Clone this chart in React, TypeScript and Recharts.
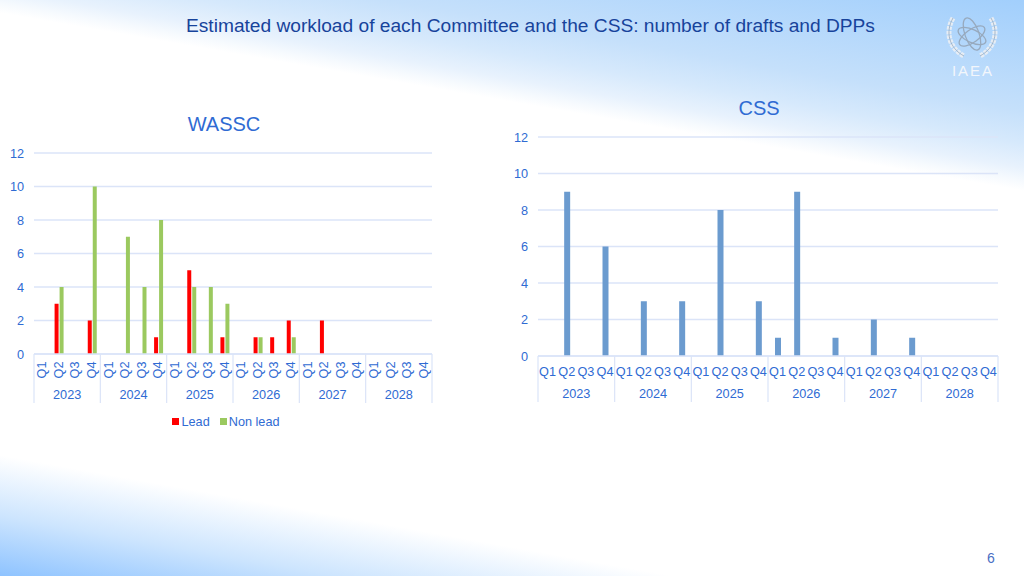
import React from 'react';
import { Bar, BarChart, CartesianGrid, Legend, XAxis, YAxis } from 'recharts';

const years = ['2023', '2024', '2025', '2026', '2027', '2028'];
const quarters = ['Q1', 'Q2', 'Q3', 'Q4'];
const yTicks = [0, 2, 4, 6, 8, 10, 12];

const wasscLead = [0, 3, 0, 2, 0, 0, 0, 1, 0, 5, 0, 1, 0, 1, 1, 2, 0, 2, 0, 0, 0, 0, 0, 0];
const wasscNonLead = [0, 4, 0, 10, 0, 7, 4, 8, 0, 4, 4, 3, 0, 1, 0, 1, 0, 0, 0, 0, 0, 0, 0, 0];
const cssDrafts = [0, 9, 0, 6, 0, 3, 0, 3, 0, 8, 0, 3, 1, 9, 0, 1, 0, 2, 0, 1, 0, 0, 0, 0];

const FONT = '"Liberation Sans", Arial, sans-serif';
const TEXT = '#2f6bd3';
const GRID = '#dbe4f8';
const TICK_SIZE = 12.7;

const periods = years.flatMap((year) => quarters.map((quarter) => ({ year, quarter })));
const wasscData = periods.map((p, i) => ({ ...p, lead: wasscLead[i], nonLead: wasscNonLead[i] }));
const cssData = periods.map((p, i) => ({ ...p, drafts: cssDrafts[i] }));

// second axis row: year label under each group of four, with the separators
const YearTick = ({ x, index, step, top, bottom, labelY }: any) => {
  const left = x - step / 2;
  return (
    <g>
      {index % 4 === 0 && <line x1={left} x2={left} y1={top} y2={bottom} stroke={GRID} strokeWidth={1.2} />}
      {index === periods.length - 1 && (
        <line x1={left + step} x2={left + step} y1={top} y2={bottom} stroke={GRID} strokeWidth={1.2} />
      )}
      {index % 4 === 1 && (
        <text x={x + step / 2} y={labelY} textAnchor="middle" fill={TEXT} fontSize={TICK_SIZE} fontFamily={FONT}>
          {periods[index].year}
        </text>
      )}
    </g>
  );
};

const RotatedTick = ({ x, y, payload }: any) => (
  <text
    transform={`translate(${x + 4},${y + 8}) rotate(-90)`}
    textAnchor="middle"
    fill={TEXT}
    fontSize={TICK_SIZE}
    fontFamily={FONT}
  >
    {payload.value}
  </text>
);

const FlatTick = ({ x, y, payload }: any) => (
  <text x={x} y={y + 12} textAnchor="middle" fill={TEXT} fontSize={TICK_SIZE} fontFamily={FONT}>
    {payload.value}
  </text>
);

const Logo = () => (
  <div style={{ position: 'absolute', left: 940, top: 10, width: 64, height: 72 }}>
    <svg width={64} height={50} style={{ position: 'absolute', left: 0, top: 0 }}>
      <g fill="none" stroke="#e6edf5" strokeWidth={5} strokeDasharray="3.5 1">
        <path d="M13 8 C5 22 9 38 24 46" />
        <path d="M51 8 C59 22 55 38 40 46" />
      </g>
      <g fill="none" stroke="#97a9bd">
        <path d="M13 8 C5 22 9 38 24 46" strokeWidth={0.8} />
        <path d="M51 8 C59 22 55 38 40 46" strokeWidth={0.8} />
        <ellipse cx={32} cy={24} rx={7} ry={17} transform="rotate(-20 32 24)" strokeWidth={1.3} />
        <ellipse cx={32} cy={26} rx={15} ry={6.5} transform="rotate(25 32 26)" strokeWidth={1.3} />
        <ellipse cx={32} cy={26} rx={15} ry={6.5} transform="rotate(-35 32 26)" strokeWidth={1.3} />
      </g>
    </svg>
    <div
      style={{
        position: 'absolute',
        left: 0,
        top: 52,
        width: 66,
        textAlign: 'center',
        color: '#f2f6fb',
        fontSize: 15,
        letterSpacing: 2,
        fontFamily: FONT,
      }}
    >
      IAEA
    </div>
  </div>
);

const Background = () => (
  <svg width={1024} height={576} style={{ position: 'absolute', left: 0, top: 0 }}>
    <defs>
      <linearGradient id="bgTop" gradientUnits="userSpaceOnUse" x1={530} y1={105} x2={562} y2={-79}>
        <stop offset="0%" stopColor="#ffffff" />
        <stop offset="5%" stopColor="#f6fafe" />
        <stop offset="12%" stopColor="#e8f2fd" />
        <stop offset="25%" stopColor="#d6e9fc" />
        <stop offset="42%" stopColor="#c5e0fb" />
        <stop offset="100%" stopColor="#a2cffc" />
      </linearGradient>
      <linearGradient id="bgBottom" gradientUnits="userSpaceOnUse" x1={250} y1={500} x2={229} y2={617}>
        <stop offset="0%" stopColor="#ffffff" />
        <stop offset="50%" stopColor="#cde5fe" />
        <stop offset="100%" stopColor="#8ec3ff" />
      </linearGradient>
    </defs>
    <rect width={1024} height={288} fill="url(#bgTop)" />
    <rect y={288} width={1024} height={288} fill="url(#bgBottom)" />
  </svg>
);

export default function App() {
  return (
    <div style={{ position: 'absolute', left: 0, top: 0, width: 1024, height: 576, overflow: 'hidden', background: '#fff', fontFamily: FONT }}>
      <Background />
      <Logo />
      <div style={{ position: 'absolute', left: 186, top: 15, color: '#17439b', fontSize: 19.17, whiteSpace: 'nowrap' }}>
        Estimated workload of each Committee and the CSS: number of drafts and DPPs
      </div>
      <div style={{ position: 'absolute', left: 34, width: 380, top: 113, textAlign: 'center', color: TEXT, fontSize: 20 }}>
        WASSC
      </div>
      <div style={{ position: 'absolute', left: 538, width: 442, top: 97, textAlign: 'center', color: TEXT, fontSize: 20 }}>
        CSS
      </div>
      <div style={{ position: 'absolute', left: 987, top: 550, color: '#4a6fc4', fontSize: 14 }}>6</div>

      <div style={{ position: 'absolute', left: 0, top: 140 }}>
        <BarChart
          width={450}
          height={295}
          data={wasscData}
          barSize={4}
          barGap={1}
          margin={{ top: 13, right: 18, bottom: 0, left: 0 }}
        >
          <CartesianGrid vertical={false} stroke={GRID} strokeWidth={1.5} />
          <XAxis
            dataKey="quarter"
            interval={0}
            height={26}
            axisLine={{ stroke: GRID, strokeWidth: 1.5 }}
            tickLine={false}
            tick={<RotatedTick />}
          />
          <XAxis
            xAxisId="year"
            dataKey="year"
            interval={0}
            height={23}
            axisLine={false}
            tickLine={false}
            tick={(props: any) => (
              <YearTick {...props} step={398 / 24} top={214} bottom={263} labelY={259} />
            )}
          />
          <YAxis
            width={34}
            domain={[0, 12]}
            ticks={yTicks}
            interval={0}
            axisLine={false}
            tickLine={false}
            tickMargin={4}
            tick={{ fill: TEXT, fontSize: TICK_SIZE, fontFamily: FONT }}
          />
          <Legend
            verticalAlign="bottom"
            height={32}
            iconType="square"
            iconSize={7}
            wrapperStyle={{ left: 15, top: 272, bottom: 'auto' }}
            formatter={(value) => (
              <span style={{ color: TEXT, fontSize: TICK_SIZE, marginLeft: -2 }}>{value}</span>
            )}
          />
          <Bar dataKey="lead" name="Lead" fill="#ff0000" isAnimationActive={false} />
          <Bar dataKey="nonLead" name="Non lead" fill="#9bc95f" isAnimationActive={false} />
        </BarChart>
      </div>

      <div style={{ position: 'absolute', left: 500, top: 124 }}>
        <BarChart
          width={510}
          height={285}
          data={cssData}
          barSize={6}
          margin={{ top: 13, right: 12, bottom: 6, left: 0 }}
        >
          <CartesianGrid vertical={false} stroke={GRID} strokeWidth={1.5} />
          <XAxis
            dataKey="quarter"
            interval={0}
            height={24}
            axisLine={{ stroke: GRID, strokeWidth: 1.5 }}
            tickLine={false}
            tick={<FlatTick />}
          />
          <XAxis
            xAxisId="year"
            dataKey="year"
            interval={0}
            height={23}
            axisLine={false}
            tickLine={false}
            tick={(props: any) => (
              <YearTick {...props} step={460 / 24} top={232} bottom={278} labelY={274} />
            )}
          />
          <YAxis
            width={38}
            domain={[0, 12]}
            ticks={yTicks}
            interval={0}
            axisLine={false}
            tickLine={false}
            tickMargin={4}
            tick={{ fill: TEXT, fontSize: TICK_SIZE, fontFamily: FONT }}
          />
          <Bar dataKey="drafts" name="Drafts" fill="#6b9bcf" isAnimationActive={false} />
        </BarChart>
      </div>
    </div>
  );
}
